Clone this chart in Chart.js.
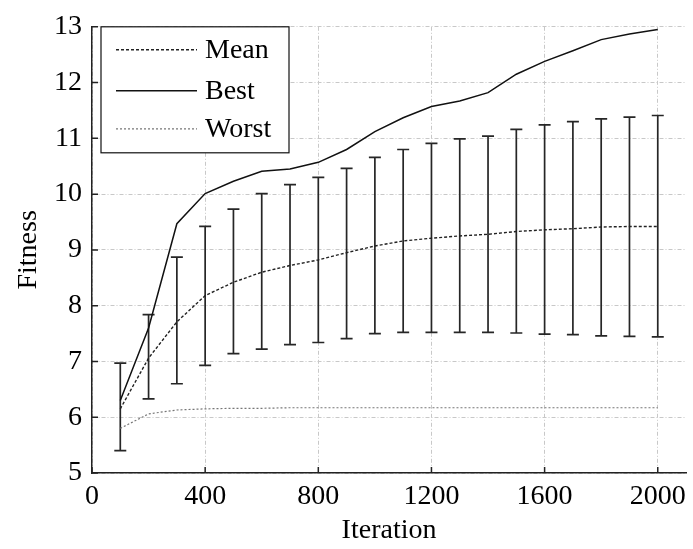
<!DOCTYPE html>
<html>
<head>
<meta charset="utf-8">
<title>Fitness vs Iteration</title>
<script src="https://cdn.jsdelivr.net/npm/chart.js@4.4.1/dist/chart.umd.min.js"></script>
<style>
  html, body { margin: 0; padding: 0; background: #fff; }
  canvas { display: block; }
</style>
</head>
<body>
<canvas id="fitness-chart" width="693" height="549"></canvas>
<script>
const iterations = [100, 200, 300, 400, 500, 600, 700, 800, 900, 1000,
  1100, 1200, 1300, 1400, 1500, 1600, 1700, 1800, 1900, 2000];

const meanFitness = [6.15, 7.06, 7.71, 8.18, 8.42, 8.6, 8.72, 8.82, 8.95, 9.07,
  9.16, 9.21, 9.25, 9.28, 9.33, 9.36, 9.38, 9.41, 9.42, 9.42];
const bestFitness = [6.3, 7.6, 9.47, 10.01, 10.23, 10.41, 10.45, 10.57, 10.8, 11.12,
  11.37, 11.57, 11.67, 11.82, 12.15, 12.38, 12.57, 12.77, 12.87, 12.95];
const worstFitness = [5.8, 6.06, 6.13, 6.15, 6.16, 6.16, 6.17, 6.17, 6.17, 6.17,
  6.17, 6.17, 6.17, 6.17, 6.17, 6.17, 6.17, 6.17, 6.17, 6.17];

// spread of the population at each sample point
const errUpper = [6.97, 7.84, 8.87, 9.42, 9.73, 10.01, 10.17, 10.3, 10.46, 10.66,
  10.8, 10.91, 10.99, 11.04, 11.16, 11.24, 11.3, 11.35, 11.38, 11.41];
const errLower = [5.4, 6.33, 6.6, 6.93, 7.14, 7.22, 7.3, 7.34, 7.41, 7.5,
  7.52, 7.52, 7.52, 7.52, 7.51, 7.49, 7.48, 7.46, 7.45, 7.44];

const xTicks = [0, 400, 800, 1200, 1600, 2000];
const yTicks = [5, 6, 7, 8, 9, 10, 11, 12, 13];

const serif = '"Liberation Serif", "Times New Roman", serif';
const fontSize = 28;

const toPoints = values => values.map((v, i) => ({ x: iterations[i], y: v }));

const errorBars = {
  id: 'errorBars',
  beforeDatasetsDraw(chart) {
    const { ctx, scales: { x, y } } = chart;
    ctx.save();
    ctx.strokeStyle = '#262626';
    ctx.lineWidth = 1.7;
    iterations.forEach((it, i) => {
      const px = x.getPixelForValue(it);
      const top = y.getPixelForValue(errUpper[i]);
      const bot = y.getPixelForValue(errLower[i]);
      ctx.beginPath();
      ctx.moveTo(px, top);
      ctx.lineTo(px, bot);
      ctx.moveTo(px - 6, top);
      ctx.lineTo(px + 6, top);
      ctx.moveTo(px - 6, bot);
      ctx.lineTo(px + 6, bot);
      ctx.stroke();
    });
    ctx.restore();
  }
};

// small tick marks pointing into the plot
const innerTicks = {
  id: 'innerTicks',
  afterDraw(chart) {
    const { ctx, chartArea, scales: { x, y } } = chart;
    ctx.save();
    ctx.strokeStyle = '#222';
    ctx.lineWidth = 1.5;
    ctx.beginPath();
    xTicks.forEach(t => {
      const px = x.getPixelForValue(t);
      ctx.moveTo(px, chartArea.bottom);
      ctx.lineTo(px, chartArea.bottom - 6);
    });
    yTicks.forEach(t => {
      const py = y.getPixelForValue(t);
      ctx.moveTo(chartArea.left, py);
      ctx.lineTo(chartArea.left + 6, py);
    });
    ctx.stroke();
    ctx.restore();
  }
};

const boxedLegend = {
  id: 'boxedLegend',
  afterDraw(chart) {
    const { ctx, chartArea } = chart;
    const left = chartArea.left + 9;
    const top = chartArea.top;
    const w = 188, h = 126;
    ctx.save();
    ctx.fillStyle = '#fff';
    ctx.fillRect(left, top, w, h);
    ctx.strokeStyle = '#111';
    ctx.lineWidth = 1.2;
    ctx.strokeRect(left, top, w, h);
    ctx.font = fontSize + 'px ' + serif;
    ctx.textBaseline = 'middle';
    ctx.fillStyle = '#000';
    const rows = [23, 64, 102];
    chart.data.datasets.forEach((ds, i) => {
      const ry = top + rows[i];
      ctx.strokeStyle = ds.borderColor;
      ctx.lineWidth = ds.borderWidth;
      ctx.setLineDash(ds.borderDash || []);
      ctx.beginPath();
      ctx.moveTo(left + 15, ry);
      ctx.lineTo(left + 96, ry);
      ctx.stroke();
      ctx.setLineDash([]);
      ctx.fillText(ds.label, left + 104, ry + 1);
    });
    ctx.restore();
  }
};

const gridStyle = {
  color: '#c8c8c8',
  lineWidth: 1,
  drawTicks: false
};

// in v4 border.dash styles the grid lines
const borderStyle = { display: true, color: '#222', width: 1.5, dash: [4, 2, 1, 2] };

new Chart(document.getElementById('fitness-chart'), {
  type: 'line',
  data: {
    datasets: [{
      label: 'Mean',
      data: toPoints(meanFitness),
      borderColor: '#222',
      borderWidth: 1.4,
      borderDash: [3, 2]
    }, {
      label: 'Best',
      data: toPoints(bestFitness),
      borderColor: '#111',
      borderWidth: 1.5
    }, {
      label: 'Worst',
      data: toPoints(worstFitness),
      borderColor: '#777',
      borderWidth: 1.2,
      borderDash: [2, 2]
    }]
  },
  options: {
    responsive: false,
    animation: false,
    devicePixelRatio: 1,
    elements: {
      point: { radius: 0 },
      line: { tension: 0 }
    },
    layout: {
      padding: { top: 21, right: 5, left: 0, bottom: 0 }
    },
    plugins: {
      legend: { display: false },
      tooltip: { enabled: false }
    },
    scales: {
      x: {
        type: 'linear',
        min: 0,
        max: 2100,
        afterBuildTicks: scale => { scale.ticks = xTicks.map(v => ({ value: v })); },
        afterFit: scale => { scale.height = 76; },
        grid: { ...gridStyle },
        border: { ...borderStyle },
        ticks: {
          color: '#000',
          font: { family: serif, size: fontSize },
          padding: 7,
          maxRotation: 0,
          callback: v => String(v)
        },
        title: {
          display: true,
          text: 'Iteration',
          color: '#000',
          font: { family: serif, size: fontSize },
          padding: { top: 0, bottom: 2 }
        }
      },
      y: {
        min: 5,
        max: 13,
        afterBuildTicks: scale => { scale.ticks = yTicks.map(v => ({ value: v })); },
        afterFit: scale => { scale.width = 92; },
        grid: { ...gridStyle },
        border: { ...borderStyle },
        ticks: {
          color: '#000',
          font: { family: serif, size: fontSize },
          padding: 10,
          callback: v => String(v)
        },
        title: {
          display: true,
          text: 'Fitness',
          color: '#000',
          font: { family: serif, size: fontSize },
          padding: { top: 12, bottom: 0 }
        }
      }
    }
  },
  plugins: [errorBars, innerTicks, boxedLegend]
});
</script>
</body>
</html>
